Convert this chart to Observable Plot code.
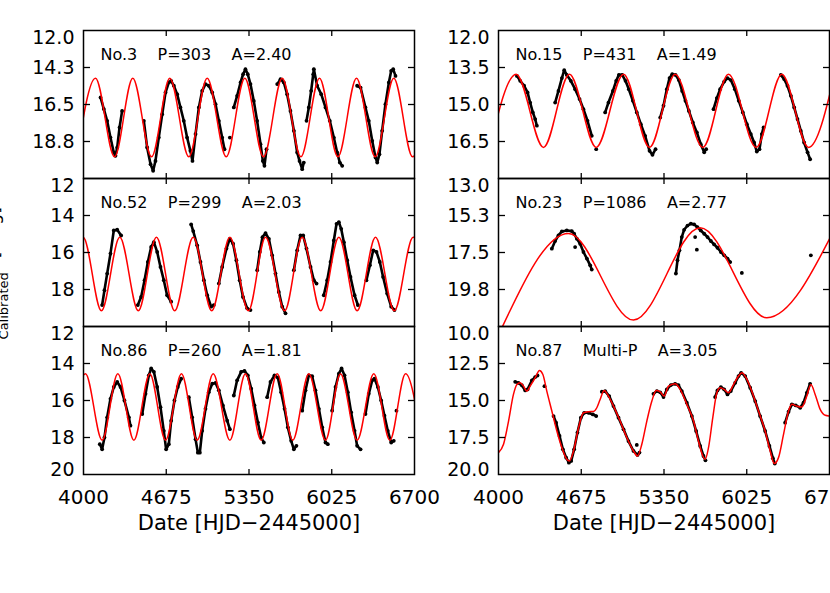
<!DOCTYPE html>
<html><head><meta charset="utf-8">
<script src="https://cdn.jsdelivr.net/npm/d3@7"></script>
<script src="https://cdn.jsdelivr.net/npm/@observablehq/plot@0.6"></script>
<style>
body{margin:0;background:#fff;}
#wrap{position:relative;width:830px;height:593px;overflow:hidden;background:#fff;}
#wrap svg{position:absolute;overflow:visible;}
</style></head><body><div id="wrap">
<svg id="ytitle" style="left:0;top:0" width="40" height="593"><text transform="translate(-1,356) rotate(-90)" font-family="DejaVu Sans" font-size="17" fill="black">m<tspan font-size="13" dy="9">Calibrated</tspan><tspan dy="-9" dx="14">[mag]</tspan></text></svg>
</div>
<script>
// ---- shared axis values ----
const xTicks = [4000, 4675, 5350, 6025, 6700];
const xTickLabels = ["4000", "4675", "5350", "6025", "6700"];
const xTitle = "Date [HJD\u22122445000]";

// ---- panel labels ----
const starNames = ["No.3", "No.52", "No.86", "No.15", "No.23", "No.87"];
const periods = ["P=303", "P=299", "P=260", "P=431", "P=1086", "Multi-P"];
const amps = ["A=2.40", "A=2.03", "A=1.81", "A=1.49", "A=2.77", "A=3.05"];

// ---- y axes ----
const yDomains = [[12, 21], [12, 20], [12, 20], [12, 18], [13, 22], [10, 20]];
const yTicks = [[12, 14.25, 16.5, 18.75], [12, 14, 16, 18], [12, 14, 16, 18, 20],
                [12, 13.5, 15, 16.5], [13, 15.25, 17.5, 19.75], [10, 12.5, 15, 17.5, 20]];
const yTickLabels = [["12.0", "14.3", "16.5", "18.8"], ["12", "14", "16", "18"], ["12", "14", "16", "18", "20"],
                     ["12.0", "13.5", "15.0", "16.5"], ["13.0", "15.3", "17.5", "19.8"], ["10.0", "12.5", "15.0", "17.5", "20.0"]];

// ---- fitted model curves (read extrema / points) ----
const fit3X = [3946, 4098, 4253, 4402, 4555, 4704, 4859, 5009, 5164, 5316, 5468, 5621, 5773, 5925, 6075, 6227, 6379, 6531, 6684, 6835];
const fit3Y = [19.68, 14.9, 19.68, 14.9, 19.68, 14.9, 19.68, 14.9, 19.68, 14.9, 19.68, 14.9, 19.68, 14.9, 19.68, 14.9, 19.68, 14.9, 19.68, 14.9];
const fit52X = [3848, 3997, 4146, 4296, 4447, 4595, 4744, 4895, 5046, 5194, 5345, 5485, 5641, 5784, 5935, 6083, 6232, 6382, 6535, 6689, 6838];
const fit52Y = [19.15, 15.17, 19.15, 15.17, 19.15, 15.17, 19.15, 15.17, 19.15, 15.17, 19.15, 15.17, 19.15, 15.17, 19.15, 15.17, 19.15, 15.17, 19.15, 15.17, 19.15];
const fit86X = [3886, 4016, 4152, 4280, 4411, 4541, 4669, 4799, 4927, 5058, 5194, 5321, 5449, 5580, 5707, 5838, 5974, 6096, 6232, 6368, 6499, 6627, 6757];
const fit86Y = [18.15, 14.55, 18.15, 14.55, 18.15, 14.55, 18.15, 14.55, 18.15, 14.55, 18.15, 14.55, 18.15, 14.55, 18.15, 14.55, 18.15, 14.55, 18.15, 14.55, 18.15, 14.55, 18.15];
const fit15X = [3930, 4144, 4367, 4579, 4797, 5020, 5232, 5441, 5667, 5876, 6102, 6311, 6529, 6742];
const fit15Y = [16.74, 13.77, 16.74, 13.77, 16.74, 13.77, 16.74, 13.77, 16.74, 13.77, 16.74, 13.77, 16.74, 13.77];
const fit23X = [4020, 4571, 5101, 5645, 6189, 6740];
const fit23Y = [22.2, 16.34, 21.61, 16.0, 21.47, 16.1];
const fit87X = [4000, 4041, 4082, 4122, 4150, 4177, 4204, 4231, 4258, 4299, 4334, 4362, 4394, 4435, 4476, 4517, 4557, 4579, 4612, 4653, 4693, 4734, 4775, 4802, 4829, 4862, 4897, 4938, 4992, 5047, 5101, 5134, 5169, 5210, 5251, 5286, 5319, 5351, 5387, 5441, 5482, 5536, 5591, 5631, 5667, 5686, 5713, 5748, 5781, 5808, 5841, 5876, 5917, 5958, 5985, 6020, 6066, 6121, 6175, 6216, 6249, 6284, 6325, 6366, 6393, 6434, 6474, 6515, 6548, 6583, 6624, 6665, 6705];
const fit87Y = [18.52, 17.96, 16.39, 14.59, 13.92, 13.80, 14.03, 14.37, 14.03, 13.47, 12.97, 13.24, 14.37, 15.71, 17.06, 18.19, 18.97, 19.08, 18.41, 16.84, 15.83, 15.76, 15.74, 15.49, 14.93, 14.32, 14.70, 15.38, 16.39, 17.51, 18.41, 18.75, 17.96, 16.39, 15.04, 14.32, 14.41, 14.70, 14.03, 13.87, 14.25, 15.26, 16.39, 17.74, 18.75, 18.97, 18.19, 16.16, 14.48, 14.14, 14.25, 14.48, 13.92, 13.35, 13.13, 13.47, 14.37, 15.71, 17.06, 18.41, 19.26, 18.86, 17.29, 15.71, 15.26, 15.38, 15.44, 14.70, 13.92, 14.59, 15.60, 16.00, 16.05];

// ---- observed light curves: [date, mag] grouped by observing stretch ----
const obs3 = [
  [[4139,16.07],[4166,16.78],[4193,17.49],[4220,18.51],[4247,19.42],[4261,19.62],[4275,19.11],[4294,17.90],[4315,16.89]],
  [[4492,17.49],[4519,19.11],[4547,20.13],[4568,20.53],[4587,19.93],[4614,18.51],[4642,17.09],[4669,15.77],[4696,15.16],[4715,15.06],[4737,15.36],[4764,15.87],[4791,16.68],[4818,17.49],[4845,18.51],[4872,19.32],[4889,19.93],[4914,18.30],[4941,16.68],[4968,15.67],[4995,15.26],[5022,15.36],[5050,15.77],[5077,16.48],[5104,17.49],[5131,18.51],[5150,19.22]],
  [[5194,18.51]],
  [[5226,16.68],[5253,15.97],[5281,15.16],[5302,14.66],[5321,14.35],[5340,14.66],[5362,15.26],[5389,16.28],[5416,17.49],[5444,18.91],[5463,19.93],[5476,20.23],[5493,19.22]],
  [[5580,15.26],[5607,14.96],[5634,15.16],[5661,15.87],[5688,16.89],[5716,18.10],[5743,19.42],[5762,19.93],[5784,20.43],[5797,20.03]],
  [[5819,17.49],[5838,16.68],[5857,15.67],[5874,14.66],[5879,14.35],[5906,15.36],[5939,15.87],[5974,16.68],[6009,17.49],[6042,18.51],[6069,19.42],[6091,20.03],[6110,20.23]],
  [[6232,15.36],[6260,15.47],[6300,16.68],[6327,17.49],[6355,18.71],[6382,19.72],[6396,20.03],[6414,19.52],[6436,18.10],[6463,16.48],[6491,15.16],[6510,14.45],[6526,14.35],[6545,14.76]]
];
const obs52 = [
  [[4152,18.84],[4171,18.04],[4193,17.14],[4220,16.06],[4247,14.81],[4275,14.77],[4307,15.08]],
  [[4443,18.84],[4470,18.40],[4498,17.50],[4525,16.51],[4552,15.70],[4574,15.44],[4601,15.97],[4628,16.78],[4655,17.50],[4682,18.31],[4715,18.66]],
  [[4878,14.48],[4895,14.84],[4927,15.61],[4954,16.51],[4982,17.50],[5009,18.31],[5041,18.93],[5063,18.84]],
  [[5104,17.68],[5131,16.78],[5166,15.79],[5193,15.26],[5220,15.52],[5247,16.42],[5274,17.50],[5301,18.40],[5335,19.02],[5362,19.11]],
  [[5417,16.96],[5438,15.97],[5460,15.17],[5485,14.95],[5512,15.26],[5539,16.15],[5566,17.14],[5593,18.13],[5621,18.93],[5648,19.29]],
  [[5716,16.96],[5743,15.88],[5770,15.08],[5792,15.08],[5819,15.79],[5852,16.78],[5879,17.50],[5901,17.68]],
  [[5960,18.31],[5988,17.50],[6015,16.51],[6042,15.35],[6064,14.45],[6083,14.36],[6102,14.72],[6124,15.44],[6151,16.42],[6178,17.32],[6211,18.31],[6238,18.84]],
  [[6308,17.50],[6336,16.69],[6363,15.88],[6390,15.97],[6417,16.51],[6444,17.32],[6477,18.22],[6510,18.93],[6537,19.11]]
];
const obs86 = [
  [[4133,18.36],[4152,18.64],[4171,18.00],[4193,16.91],[4220,15.91],[4247,15.27],[4275,15.00],[4302,15.27],[4334,16.00],[4370,16.91],[4383,17.36]],
  [[4479,16.73],[4506,15.64],[4533,14.64],[4552,14.27],[4574,14.45],[4601,15.27],[4628,16.36],[4655,17.64],[4674,18.64],[4696,18.36],[4715,17.09],[4742,16.00],[4769,15.27],[4797,14.82]],
  [[4859,15.82],[4886,16.91],[4914,18.09],[4933,18.82],[4949,18.82],[4968,17.64],[4995,16.45],[5022,15.55],[5050,15.09],[5077,15.05],[5104,15.45],[5137,16.27],[5172,17.09],[5194,17.55]],
  [[5226,15.73],[5253,14.91],[5286,14.45],[5313,14.40],[5340,14.64],[5368,15.36],[5395,16.27],[5422,17.18],[5449,18.00],[5471,18.27]],
  [[5498,15.82],[5525,15.00],[5558,14.64],[5585,14.76],[5612,15.55],[5640,16.45],[5667,17.45],[5694,18.18],[5716,18.64],[5737,18.45]],
  [[5784,16.55],[5811,15.45],[5838,14.64],[5865,14.69],[5892,15.45],[5920,16.45],[5947,17.45],[5974,18.27],[5993,18.36]],
  [[6028,16.55],[6056,15.27],[6083,14.55],[6105,14.27],[6129,14.64],[6156,15.55],[6183,16.64],[6211,17.64],[6232,18.45],[6260,18.64]],
  [[6300,16.73],[6327,15.64],[6355,14.91],[6374,14.82],[6401,15.27],[6428,16.00],[6455,16.82],[6482,17.64],[6510,18.27],[6531,18.18]],
  [[6553,16.55]]
];
const obs15 = [
  [[4150,13.84],[4177,14.04],[4209,14.24],[4237,14.51],[4258,14.92],[4280,15.32],[4299,15.59],[4313,15.86]],
  [[4462,14.92],[4489,14.45],[4517,13.93],[4536,13.61],[4557,13.80],[4590,14.04],[4625,14.38],[4661,14.78],[4693,15.19],[4726,15.66],[4761,16.27]],
  [[4797,16.81]],
  [[4870,15.32],[4897,14.92],[4933,14.45],[4960,14.04],[4982,13.80],[5009,13.80],[5036,14.04],[5063,14.38],[5096,14.85],[5128,15.32],[5161,15.80],[5196,16.27],[5232,16.88],[5256,17.04],[5281,16.81]],
  [[5319,15.53],[5346,15.05],[5373,14.38],[5395,13.93],[5417,13.77],[5444,13.80],[5471,14.01],[5498,14.45],[5525,14.85],[5553,15.26],[5585,15.73],[5618,16.13],[5650,16.61],[5678,16.94],[5694,16.81]],
  [[5754,15.19],[5781,14.74],[5808,14.38],[5841,14.07],[5868,13.93],[5895,14.01],[5928,14.38],[5960,14.85],[5993,15.32],[6026,15.80],[6058,16.20],[6085,16.54],[6107,16.91],[6129,16.81],[6148,16.20],[6162,15.93]],
  [[6303,13.80],[6330,13.97],[6357,14.24],[6385,14.65],[6412,15.12],[6439,15.59],[6466,16.07],[6493,16.54],[6521,16.94],[6542,17.22]]
];
const obs23 = [
  [[4435,17.27],[4462,16.80],[4489,16.46],[4517,16.22],[4557,16.16],[4598,16.20],[4617,16.36],[4639,16.66],[4666,16.97],[4693,17.47],[4721,17.87],[4748,18.28],[4761,18.54]],
  [[4625,17.17]],
  [[5447,18.78],[5460,17.97],[5476,17.37],[5495,16.56],[5514,16.12],[5542,15.86],[5569,15.75],[5596,15.79],[5623,15.96],[5650,16.16],[5678,16.36],[5705,16.56],[5732,16.80],[5759,17.01],[5786,17.21],[5814,17.47],[5841,17.67],[5868,17.87],[5890,18.08]],
  [[5604,16.56]], [[5618,17.33]], [[5985,18.74]], [[6548,17.67]]
];
const obs87 = [
  [[4136,13.74],[4163,13.81],[4190,13.97],[4218,14.32],[4237,14.25],[4272,13.65],[4299,13.42],[4318,13.31]],
  [[4375,14.03]],
  [[4449,16.05],[4470,16.50],[4498,17.40],[4525,18.30],[4552,18.86],[4574,19.20],[4593,19.08],[4617,18.30],[4644,17.17],[4672,16.16],[4699,15.83],[4734,15.83],[4770,15.94],[4797,16.05]],
  [[4843,14.41],[4870,14.37],[4903,14.70],[4938,15.38],[4979,16.16],[5020,16.95],[5060,17.74],[5101,18.41],[5134,18.68],[5150,18.52]],
  [[5128,18.0]],
  [[5264,14.55],[5292,14.36],[5319,14.45],[5346,14.77],[5373,14.25],[5406,13.96],[5441,13.87],[5468,13.96],[5495,14.36],[5536,15.15],[5577,16.05],[5612,17.06],[5645,18.07],[5672,18.75],[5688,19.04]],
  [[5767,14.77],[5786,14.32],[5814,14.10],[5841,14.25],[5868,14.59],[5895,14.36],[5931,13.80],[5958,13.35],[5979,13.13],[6012,13.35],[6053,14.14],[6094,15.04],[6134,16.05],[6175,17.06],[6210,18.07],[6238,18.90],[6254,19.26]],
  [[6338,16.50],[6366,15.76],[6393,15.26],[6425,15.33],[6461,15.49],[6488,15.15],[6515,14.48],[6542,13.87]]
];

const fitsX = [fit3X, fit52X, fit86X, fit15X, fit23X, fit87X];
const fitsY = [fit3Y, fit52Y, fit86Y, fit15Y, fit23Y, fit87Y];
const observations = [obs3, obs52, obs86, obs15, obs23, obs87];

// ---- layout ----
const frameLefts = [83, 83, 83, 498, 498, 498];
const frameTops = [30, 178, 326, 30, 178, 326];
const innerW = 331, innerH = 148;
const FONT = "DejaVu Sans";

const wrap = document.getElementById("wrap");

for (let i = 0; i < 6; i++) {
  const bottomRow = (i % 3) === 2;
  const ml = 83, mr = 10, mt = 10, mb = bottomRow ? 80 : 10;
  const ticks = yTicks[i], labels = yTickLabels[i];
  const dom = yDomains[i];
  const mid = ticks.filter(t => t !== dom[0] && t !== dom[1]);
  const topT = ticks.filter(t => t === dom[0]);
  const botT = ticks.filter(t => t === dom[1]);
  const fmt = d => labels[ticks.indexOf(d)];
  const rows = observations[i].flatMap((seg, k) => seg.map(([x, y]) => ({x, y, s: k})));
  const fit = fitsX[i].map((x, k) => ({x, y: fitsY[i][k]}));
  const label = [starNames[i], periods[i], amps[i]].join("\u00a0\u00a0\u00a0\u00a0");
  const inner = xTicks.slice(1, -1);
  const marks = [
    Plot.line(rows, {x: "x", y: "y", z: "s", stroke: "black", strokeWidth: 2.6, clip: true}),
    Plot.dot(rows, {x: "x", y: "y", r: 1.9, fill: "black", clip: true}),
    Plot.line(fit, {x: "x", y: "y", stroke: "#ff0000", strokeWidth: 1.5, curve: "monotone-x", clip: true}),
    Plot.frame({stroke: "black", strokeWidth: 1.5}),
    Plot.axisY(mid, {anchor: "left", tickSize: -7, tickFormat: () => "", label: null, strokeWidth: 1.3}),
    Plot.axisY(mid, {anchor: "right", tickSize: -7, tickFormat: () => "", label: null, strokeWidth: 1.3}),
    Plot.axisX(inner, {anchor: "top", tickSize: -5, tickFormat: () => "", label: null, strokeWidth: 1.3}),
    Plot.axisX(inner, {anchor: "bottom", tickSize: -5, tickFormat: () => "", label: null, strokeWidth: 1.3}),
    Plot.axisY(mid, {anchor: "left", tickSize: 0, tickPadding: 9, tickFormat: fmt, label: null, fontSize: 19, fill: "black"}),
    Plot.axisY(topT, {anchor: "left", tickSize: 0, tickPadding: 9, tickFormat: fmt, label: null, fontSize: 19, dy: 7, fill: "black"}),
    Plot.text([label], {frameAnchor: "top-left", text: d => d, dx: 17, dy: 24, textAnchor: "start", lineAnchor: "middle", fontSize: 16, fill: "black"})
  ];
  if (botT.length) marks.push(Plot.axisY(botT, {anchor: "left", tickSize: 0, tickPadding: 9, tickFormat: fmt, label: null, fontSize: 19, dy: -5, fill: "black"}));
  if (bottomRow) {
    marks.push(Plot.axisX(xTicks, {anchor: "bottom", tickSize: 0, tickPadding: 15, tickFormat: d => xTickLabels[xTicks.indexOf(d)], label: null, fontSize: 20, fill: "black"}));
    marks.push(Plot.text([xTitle], {frameAnchor: "bottom", text: d => d, dy: 49, lineAnchor: "middle", fontSize: 21, fill: "black"}));
  }
  const chart = Plot.plot({
    width: ml + innerW + mr, height: mt + innerH + mb,
    marginLeft: ml, marginRight: mr, marginTop: mt, marginBottom: mb,
    x: {domain: [4000, 6700], label: null},
    y: {domain: dom, reverse: true, label: null},
    style: {fontFamily: FONT, background: "transparent", overflow: "visible", color: "black"},
    marks
  });
  chart.style.position = "absolute";
  chart.style.left = (frameLefts[i] - ml) + "px";
  chart.style.top = (frameTops[i] - mt) + "px";
  wrap.appendChild(chart);
}
</script></body></html>
